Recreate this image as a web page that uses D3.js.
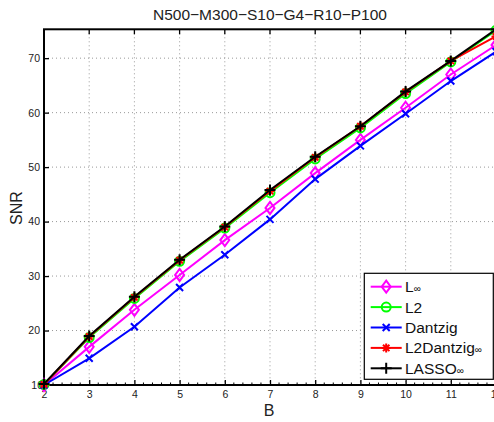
<html>
<head>
<meta charset="utf-8">
<script src="https://d3js.org/d3.v7.min.js"></script>
<style>
  body { margin: 0; background: #fff; }
  text { font-family: "Liberation Sans", Arial, sans-serif; }
</style>
</head>
<body>
<svg id="chart" width="494" height="422"></svg>
<script>
// data
var bValues = [2, 3, 4, 5, 6, 7, 8, 9, 10, 11, 12];
var xTicks = [2, 3, 4, 5, 6, 7, 8, 9, 10, 11, 12];
var yTicks = [10, 20, 30, 40, 50, 60, 70];

var snrLinf      = [10.0, 17.0, 23.8, 30.2, 36.6, 42.5, 48.9, 55.0, 60.9, 67.0, 72.4];
var snrL2        = [10.1, 18.7, 25.9, 32.7, 38.8, 45.3, 51.5, 57.2, 63.5, 69.3, 75.1];
var snrDantzig   = [10.0, 14.9, 20.7, 27.9, 33.9, 40.4, 47.8, 53.9, 59.8, 65.8, 71.2];
var snrL2Dantzig = [10.1, 18.9, 26.1, 32.9, 39.0, 45.6, 51.8, 57.5, 63.8, 69.5, 74.0];
var snrLasso     = [10.2, 19.0, 26.2, 33.0, 39.1, 45.8, 51.9, 57.5, 63.9, 69.5, 75.3];

var seriesNames = ["L\u221e", "L2", "Dantzig", "L2Dantzig\u221e", "LASSO\u221e"];
var seriesColors = ["#ff00ff", "#00ff00", "#0000ff", "#ff0000", "#000000"];
var seriesMarkers = ["diamond", "circle", "x", "star", "plus"];
var seriesValues = [snrLinf, snrL2, snrDantzig, snrL2Dantzig, snrLasso];

var svg = d3.select("#chart");
var plotL = 44, plotR = 496, plotT = 29.3, plotB = 385;

var x = d3.scaleLinear().domain([2, 12]).range([plotL, plotR]);
var y = d3.scaleLinear().domain([10, 75.3]).range([plotB, plotT]);

// grid
svg.append("g").selectAll("line").data(xTicks.slice(1, -1)).enter().append("line")
    .attr("x1", function(d){ return x(d); }).attr("x2", function(d){ return x(d); })
    .attr("y1", plotT).attr("y2", plotB)
    .attr("stroke", "#999").attr("stroke-width", 1).attr("stroke-dasharray", "1,3");
svg.append("g").selectAll("line").data(yTicks.slice(1)).enter().append("line")
    .attr("x1", plotL).attr("x2", plotR)
    .attr("y1", function(d){ return y(d); }).attr("y2", function(d){ return y(d); })
    .attr("stroke", "#999").attr("stroke-width", 1).attr("stroke-dasharray", "1,3");

// axes (ticks inward)
var xAxis = d3.axisBottom(x).tickValues(xTicks).tickSizeInner(-5).tickSizeOuter(0).tickPadding(6);
var yAxis = d3.axisLeft(y).tickValues(yTicks).tickSizeInner(-5).tickSizeOuter(0).tickPadding(4);

var gx = svg.append("g").attr("transform", "translate(0," + plotB + ")").call(xAxis);
var gy = svg.append("g").attr("transform", "translate(" + plotL + ",0)").call(yAxis);
[gx, gy].forEach(function(g){
    g.select(".domain").remove();
    g.selectAll(".tick line").attr("stroke", "#000").attr("stroke-width", 1.3);
    g.selectAll("text").attr("font-size", 10.5).attr("fill", "#222")
        .attr("font-family", "Liberation Sans, Arial, sans-serif");
});
gy.selectAll(".tick").filter(function(d){ return d === 10; }).select("text").attr("dx", 3);

// minor ticks on x
var minor = d3.range(2, 12.001, 0.2).filter(function(d){ return Math.abs(d - Math.round(d)) > 0.01; });
svg.append("g").selectAll("line").data(minor).enter().append("line")
    .attr("x1", function(d){ return x(d); }).attr("x2", function(d){ return x(d); })
    .attr("y1", plotB).attr("y2", plotB - 2.5)
    .attr("stroke", "#000").attr("stroke-width", 1);

// top ticks
svg.append("g").selectAll("line").data(xTicks).enter().append("line")
    .attr("x1", function(d){ return x(d); }).attr("x2", function(d){ return x(d); })
    .attr("y1", plotT).attr("y2", plotT + 5)
    .attr("stroke", "#000").attr("stroke-width", 1.3);

// box
svg.append("rect").attr("x", plotL).attr("y", plotT)
    .attr("width", plotR - plotL).attr("height", plotB - plotT)
    .attr("fill", "none").attr("stroke", "#000").attr("stroke-width", 2);

// marker drawing
function drawMarker(g, type, color, cx, cy) {
    if (type === "diamond") {
        g.append("path").attr("d", "M" + cx + "," + (cy - 6) + "L" + (cx + 4.5) + "," + cy +
            "L" + cx + "," + (cy + 6) + "L" + (cx - 4.5) + "," + cy + "Z")
            .attr("fill", "none").attr("stroke", color).attr("stroke-width", 2);
    } else if (type === "circle") {
        g.append("circle").attr("cx", cx).attr("cy", cy).attr("r", 4.5)
            .attr("fill", "none").attr("stroke", color).attr("stroke-width", 2);
    } else if (type === "x") {
        var s = 3.5;
        g.append("path").attr("d", "M" + (cx - s) + "," + (cy - s) + "L" + (cx + s) + "," + (cy + s) +
            "M" + (cx - s) + "," + (cy + s) + "L" + (cx + s) + "," + (cy - s))
            .attr("stroke", color).attr("stroke-width", 2);
    } else if (type === "star") {
        var r = 4.5, d = 3.2;
        g.append("path").attr("d", "M" + cx + "," + (cy - r) + "L" + cx + "," + (cy + r) +
            "M" + (cx - r) + "," + cy + "L" + (cx + r) + "," + cy +
            "M" + (cx - d) + "," + (cy - d) + "L" + (cx + d) + "," + (cy + d) +
            "M" + (cx - d) + "," + (cy + d) + "L" + (cx + d) + "," + (cy - d))
            .attr("stroke", color).attr("stroke-width", 2);
    } else if (type === "plus") {
        var p = 5.5;
        g.append("path").attr("d", "M" + cx + "," + (cy - p) + "L" + cx + "," + (cy + p) +
            "M" + (cx - p) + "," + cy + "L" + (cx + p) + "," + cy)
            .attr("stroke", color).attr("stroke-width", 2);
    }
}

var line = d3.line().x(function(d, i){ return x(bValues[i]); }).y(function(d){ return y(d); });

for (var s = 0; s < seriesValues.length; s++) {
    var g = svg.append("g");
    g.append("path").attr("d", line(seriesValues[s]))
        .attr("fill", "none").attr("stroke", seriesColors[s]).attr("stroke-width", 2);
    for (var i = 0; i < bValues.length; i++) {
        drawMarker(g, seriesMarkers[s], seriesColors[s], x(bValues[i]), y(seriesValues[s][i]));
    }
}

// labels
svg.append("text").attr("x", 270).attr("y", 20).attr("text-anchor", "middle")
    .attr("font-size", 15.5).attr("fill", "#222").text("N500\u2212M300\u2212S10\u2212G4\u2212R10\u2212P100");
svg.append("text").attr("x", 269).attr("y", 416).attr("text-anchor", "middle")
    .attr("font-size", 16).attr("fill", "#222").text("B");
svg.append("text").attr("transform", "translate(21.5,208) rotate(-90)").attr("text-anchor", "middle")
    .attr("font-size", 16).attr("fill", "#222").text("SNR");

// legend
var legX = 364.3, legY = 273.3, legW = 129, legH = 106;
var leg = svg.append("g");
leg.append("rect").attr("x", legX).attr("y", legY).attr("width", legW).attr("height", legH)
    .attr("fill", "#fff").attr("stroke", "#000").attr("stroke-width", 1.2);
for (var k = 0; k < seriesNames.length; k++) {
    var ly = legY + 13.4 + k * 20.4;
    leg.append("line").attr("x1", 370.7).attr("x2", 401.7).attr("y1", ly).attr("y2", ly)
        .attr("stroke", seriesColors[k]).attr("stroke-width", 2);
    drawMarker(leg, seriesMarkers[k], seriesColors[k], 386.2, ly);
    var name = seriesNames[k];
    var t = leg.append("text").attr("x", 405).attr("y", ly + 5.5).attr("font-size", 15.5).attr("fill", "#111");
    if (name.slice(-1) === "\u221e") {
        t.append("tspan").text(name.slice(0, -1));
        t.append("tspan").attr("font-size", 10).text("\u221e");
    } else {
        t.text(name);
    }
}
</script>
</body>
</html>
